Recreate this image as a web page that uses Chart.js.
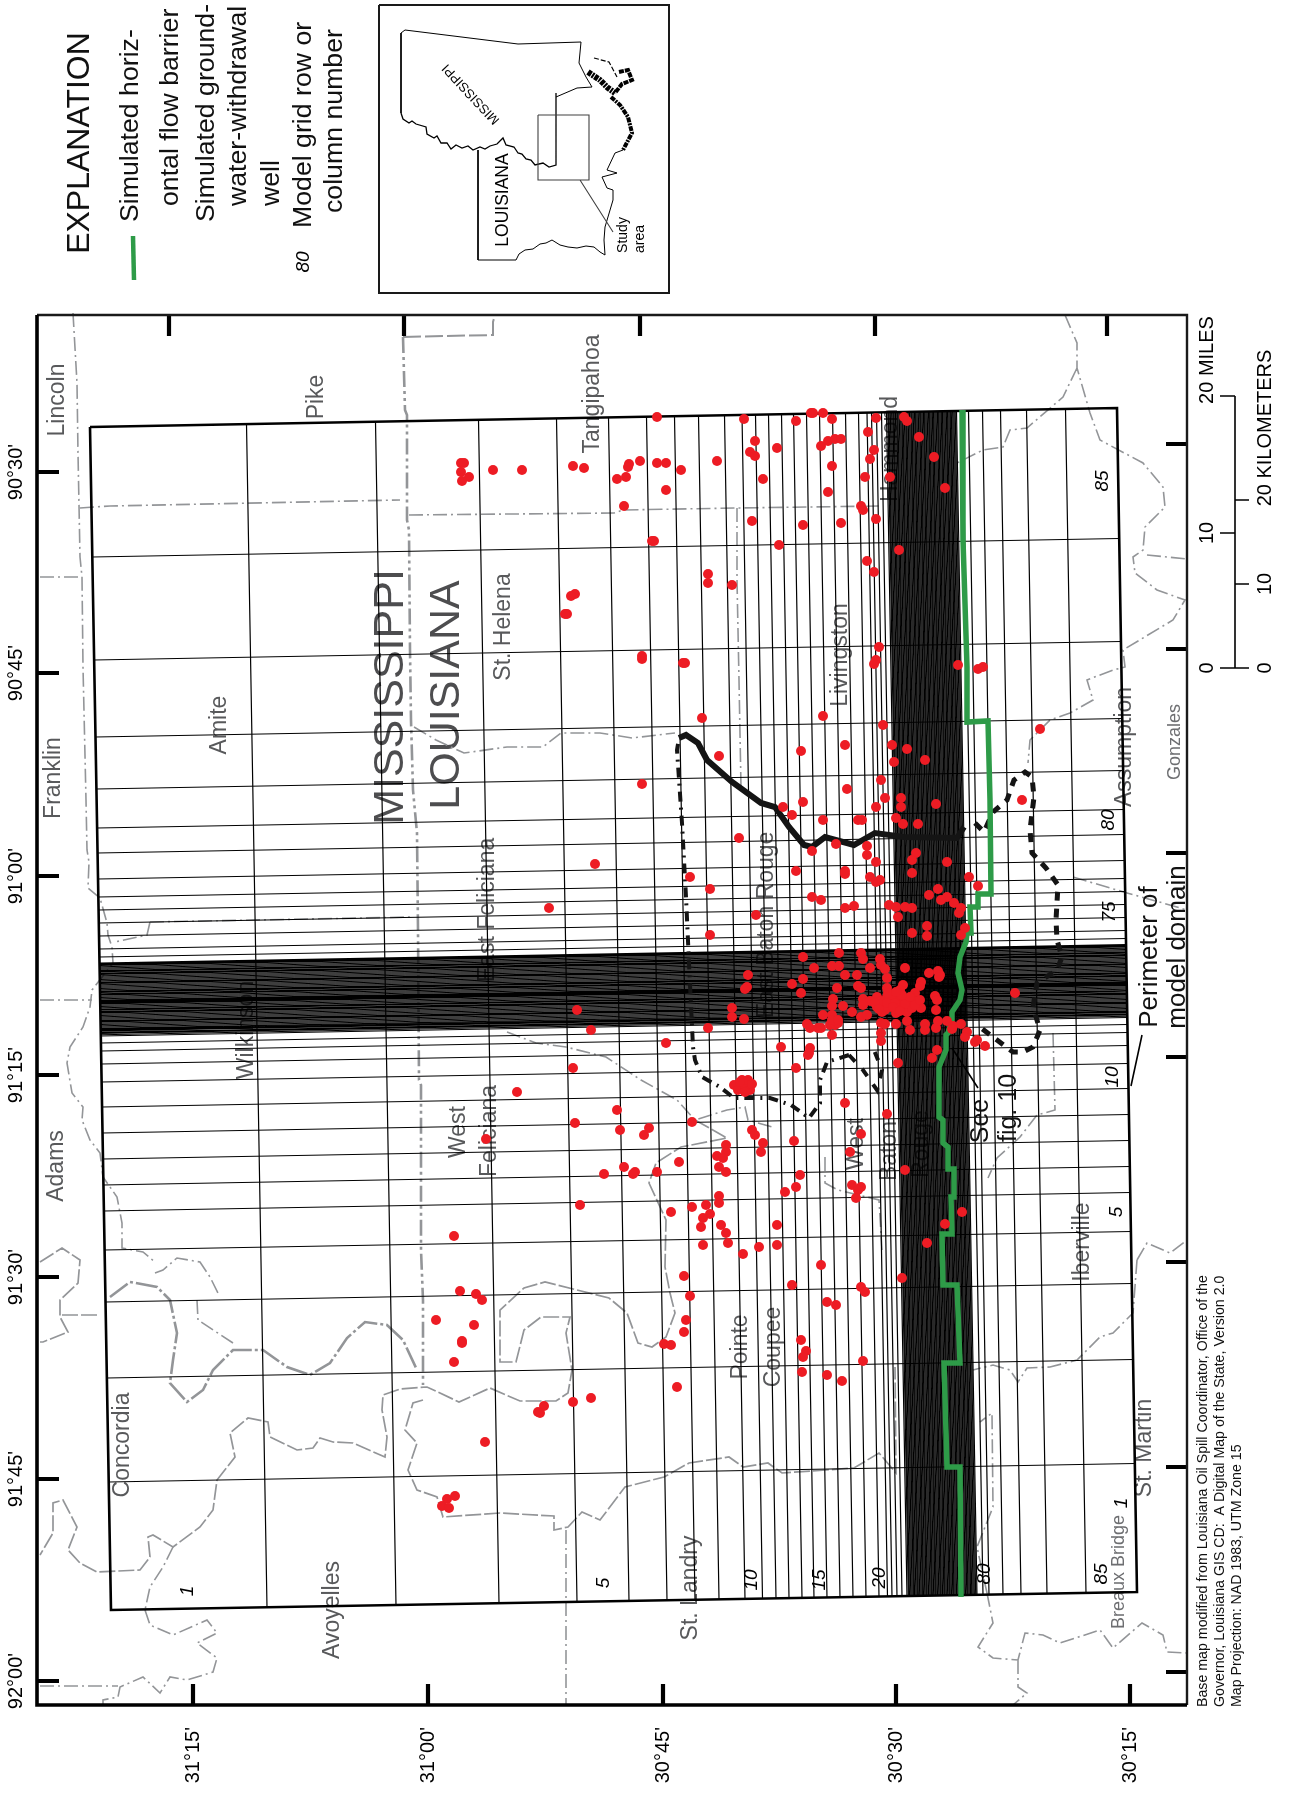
<!DOCTYPE html>
<html><head><meta charset="utf-8">
<style>html,body{margin:0;padding:0;background:#fff}canvas{display:block}</style>
<script src="https://cdn.jsdelivr.net/npm/chart.js@4"></script>
</head><body><canvas id="c" width="1289" height="1802"></canvas>
<script>
// Map units: east / south along the sheet of the rotated map.
const latTickValues=[193,428,663,896,1130];
const latTickLabels=["31°15'","31°00'","30°45'","30°30'","30°15'"];
const lonTickValues=[472,673,876,1075,1277,1479,1681];
const lonTickLabels=["90°30'","90°45'","91°00'","91°15'","91°30'","91°45'","92°00'"];
const topTicks=[169,404,640,875,1107];
const rightTicks=[444,649,853,1057,1262,1467,1672];

// Model grid: row lines read along the south edge, column lines along the west edge
const rowLines=[267,396,499,577,629,667,695,719,745,762.5,776,789,802,814,827,840,853,866,879,887.5,892,897,902,907,983,989,1003,1021,1047,1086];
const rowLinesDense=[908.3,909.5,910.8,912.1,913.4,914.6,915.9,917.2,918.4,919.7,921,922.3,923.5,924.8,926.1,927.3,928.6,929.9,931.2,932.4,933.7,935,936.2,937.5,938.8,940.1,941.3,942.6,943.9,945.1,946.4,947.7,949,950.2,951.5,952.8,954,955.3,956.6,957.9,959.1,960.4,961.7,962.9,964.2,965.5,966.8,968,969.3,970.6,971.8,973.1,974.4,975.7,977];
const colLines=[1482,1378,1302,1250,1211,1185,1159,1133,1107,1082,1064,1051,1043,1036,957,949,936,923,910,897,879,853,828,789,737,660,557];
const colLinesDense=[1034.7,1033.4,1032.2,1030.9,1029.6,1028.3,1027,1025.7,1024.5,1023.2,1021.9,1020.6,1019.3,1018,1016.8,1015.5,1014.2,1012.9,1011.6,1010.3,1009.1,1007.8,1006.5,1005.2,1003.9,1002.6,1001.4,1000.1,998.8,997.5,996.2,994.9,993.7,992.4,991.1,989.8,988.5,987.2,986,984.7,983.4,982.1,980.8,979.5,978.3,977,975.7,974.4,973.1,971.8,970.6,969.3,968,966.7,965.4,964.1,963];
const perimeter=[[90,427],[1117,408],[1137,1592],[111,1610],[90,427]];

const wells=[[461,463],[464,463],[461,472],[469,477],[462,481],[493,470],[522,470],[573,466],[584,468],[617,479],[626,477],[629,464],[628,467],[640,461],[657,463],[666,463],[681,470],[717,461],[666,490],[624,506],[657,417],[744,419],[755,441],[750,452],[755,456],[777,448],[763,479],[796,421],[811,413],[813,413],[823,413],[832,419],[821,446],[828,441],[835,439],[841,439],[832,466],[828,492],[868,432],[876,418],[874,450],[870,459],[865,477],[890,477],[904,417],[907,421],[919,437],[934,457],[945,488],[861,506],[863,510],[876,519],[752,521],[803,525],[841,523],[654,541],[652,541],[779,545],[899,550],[867,561],[874,572],[708,574],[708,583],[732,585],[575,594],[571,596],[567,614],[565,614],[642,659],[642,656],[685,663],[683,663],[879,647],[876,660],[874,664],[958,665],[978,669],[983,667],[702,718],[823,716],[883,725],[801,751],[845,745],[892,745],[907,749],[894,762],[925,760],[719,756],[881,780],[1040,729],
[642,784],[847,789],[803,802],[783,807],[792,815],[885,798],[901,798],[901,807],[876,807],[936,804],[1022,800],[896,818],[903,824],[918,824],[823,820],[858,820],[862,820],[739,838],[836,844],[812,851],[867,846],[867,855],[916,853],[912,860],[947,862],[876,862],[595,864],[796,871],[845,874],[845,871],[912,873],[870,877],[880,880],[876,882],[969,877],[690,877],[710,889],[978,886],[938,889],[929,895],[947,897],[941,900],[954,903],[961,908],[959,913],[812,897],[821,900],[845,908],[854,906],[549,908],[889,905],[896,907],[905,907],[912,908],[898,917],[756,915],[927,926],[927,936],[912,933],[710,935],[965,928],[961,935],
[803,957],[839,953],[861,953],[863,959],[880,959],[881,965],[885,969],[814,968],[832,966],[839,966],[870,968],[905,968],[938,971],[929,973],[940,975],[939,977],[845,975],[857,975],[887,978],[803,979],[792,984],[921,982],[903,985],[920,986],[858,986],[861,988],[837,988],[887,988],[801,993],[935,996],[937,1000],[915,993],[900,990],[877,997],[887,997],[893,1000],[900,1000],[907,1000],[913,1000],[863,999],[870,1001],[863,1005],[833,999],[832,1006],[843,1006],[877,1007],[883,1005],[890,1007],[897,1005],[903,1007],[882,1012],[896,1013],[907,1012],[912,1008],[921,1008],[936,1010],[852,1012],[823,1015],[832,1015],[861,1017],[867,1015],[807,1024],[810,1028],[818,1028],[821,1028],[830,1025],[835,1025],[838,1023],[832,1020],[838,1020],[832,1035],[881,1023],[885,1024],[896,1024],[907,1021],[910,1030],[925,1024],[925,1030],[936,1028],[938,1021],[947,1021],[953,1026],[952,1029],[961,1024],[967,1032],[965,1037],[977,1040],[975,1042],[985,1046],[881,1033],[881,1041],[937,1050],[781,1047],[810,1048],[808,1055],[932,1058],
[880,1001],[885,1010],[892,995],[898,1009],[905,1004],[910,997],[915,1005],[887,1003],[895,1003],[902,995],[875,1003],[920,1000],[893,1007],[900,1011],[879,1009],[888,993],[896,992],
[748,975],[747,987],[745,989],[732,1008],[732,1017],[744,1019],[577,1010],[591,1030],[708,1028],[666,1043],[573,1068],[796,1068],[898,1063],[1015,993],
[517,1092],[617,1110],[575,1123],[620,1130],[649,1128],[644,1135],[486,1139],[692,1122],[845,1103],[809,1053],[734,1085],[738,1090],[742,1080],[745,1087],[748,1080],[750,1090],[752,1084],[745,1092],[740,1082],[887,1114],[752,1130],[755,1135],[763,1143],[794,1141],[861,1134],[726,1145],[726,1152],[717,1156],[723,1158],[761,1152],[850,1152],[679,1162],[719,1167],[726,1172],[657,1172],[624,1167],[635,1172],[633,1174],[604,1174],[800,1175],[905,1170],[852,1185],[861,1187],[858,1190],[796,1187],[785,1192],[856,1198],[719,1196],[719,1203],[706,1205],[692,1207],[580,1205],[671,1212],[710,1214],[703,1218],[962,1212],[945,1224],[721,1225],[701,1227],[777,1225],[726,1233],[454,1236],[728,1243],[703,1245],[759,1247],[777,1245],[743,1254],[927,1243],[821,1265],[684,1276],[792,1285],[902,1278],[861,1287],[865,1292],[460,1291],[476,1294],[482,1300],[690,1296],[827,1302],[836,1305],[436,1320],[474,1325],[686,1320],[684,1332],[462,1341],[462,1343],[801,1340],[806,1351],[803,1357],[454,1362],[664,1344],[671,1345],[863,1361],[802,1372],[827,1375],[842,1381],[677,1387],[591,1398],[573,1402],[544,1406],[538,1412],[540,1413],[485,1442],[455,1496],[447,1499],[442,1506],[449,1508]];

const flowBarrier=[[962,410],[963,540],[967,667],[967,722],[988,721],[990,800],[991,894],[978,894],[978,907],[970,907],[971,933],[967,933],[966,942],[960,957],[958,973],[962,990],[960,1000],[952,1012],[952,1020],[948,1033],[946,1035],[946,1050],[939,1067],[939,1117],[943,1120],[943,1143],[948,1147],[948,1169],[954,1169],[954,1197],[951,1197],[952,1234],[942,1234],[943,1285],[957,1285],[960,1363],[944,1363],[947,1467],[960,1467],[961,1597]];

const outlineSolid=[[679,738],[686,735],[698,743],[707,760],[732,782],[761,803],[775,807],[789,827],[804,845],[812,847],[825,837],[854,845],[875,833],[904,837],[957,838],[964,827]];
const outlineDashed=[[975,823],[984,832],[993,812],[1007,800],[1014,780],[1025,772],[1032,777],[1034,797],[1030,830],[1032,853],[1046,868],[1058,885],[1056,920],[1057,940],[1062,957],[1057,970],[1037,983],[1033,1007],[1040,1030],[1033,1047],[1023,1052],[1013,1052],[993,1037],[977,1025]];
const outlineWest=[[849,1055],[827,1062],[820,1080],[820,1103],[809,1118],[791,1105],[770,1098],[734,1098],[720,1087],[702,1077],[695,1060],[693,1047],[689,963],[686,897],[682,823],[677,750],[679,738]];
const outlineEast=[[849,1055],[863,1070],[877,1090],[882,1070],[874,1050]];

const stateLine=[[403,337],[405,410],[407,415],[407,520],[409,530],[410,650],[411,720],[413,790],[417,833],[418,930],[419,1080],[421,1085],[421,1250],[423,1300],[423,1385]];
const stateLineTop=[[403,337],[493,335],[493,322],[495,315]];
const parishDash=[
[[80,508],[110,506],[400,500]],
[[409,515],[614,513],[623,510],[737,508],[879,506]],
[[737,508],[737,580],[739,680],[741,787]],
[[73,313],[77,383],[78,453],[80,557],[82,577],[83,667],[86,800],[87,850],[89,862],[88,888],[100,898],[107,923],[108,935],[112,947],[113,963],[92,990],[90,1007],[83,1027],[70,1047],[67,1063],[72,1093],[83,1107],[82,1120],[90,1140],[100,1153],[103,1177],[117,1197],[122,1223],[122,1248],[143,1252],[155,1262]],
[[40,577],[82,577]],[[40,1000],[92,1000]],
[[150,922],[413,917]],[[150,922],[147,935],[115,942]],
[[1065,315],[1077,343],[1077,368],[1090,413],[1100,440],[1143,463],[1163,487],[1165,507],[1145,527],[1143,550],[1133,557],[1135,573],[1157,590],[1185,600],[1173,620],[1123,650],[1125,667],[1113,670],[1087,680],[1093,700],[1070,713],[1050,720],[1030,740],[1028,763]],
[[1077,368],[1063,397],[1027,428],[1010,430],[1003,447],[983,450],[957,463]],
[[1147,555],[1187,559]],
[[414,727],[436,740],[464,753],[507,747],[543,747],[561,733],[600,733],[632,738],[675,733]],
[[507,1032],[536,1043],[566,1047],[606,1057],[641,1080],[677,1100],[695,1120],[727,1110],[745,1107],[748,1120],[772,1127]],
[[566,1530],[566,1705]],
[[40,1686],[118,1686]],
[[145,1610],[150,1625],[173,1635],[207,1620],[217,1633],[197,1643],[217,1658],[213,1672],[187,1680],[170,1677],[160,1693],[143,1677],[120,1687],[118,1697],[103,1700],[103,1705]],
[[173,1547],[163,1567],[150,1587],[145,1610]],
[[987,1593],[993,1623],[978,1647],[993,1658],[1018,1660],[1025,1633],[1043,1635],[1060,1643],[1100,1630],[1113,1648],[1142,1623],[1163,1635],[1167,1652],[1187,1653]],
[[1018,1660],[1018,1687],[1027,1693],[1013,1705]],
[[987,1593],[977,1547],[993,1507],[992,1413],[980,1422]],
[[1137,1260],[1133,1313],[1113,1333],[1100,1337],[1077,1360],[1050,1367],[1027,1368],[1018,1382],[1010,1370],[993,1365],[973,1370]],
[[1137,1260],[1147,1243],[1170,1253],[1187,1240]],
[[1053,1033],[1055,1110],[1037,1115],[1020,1137],[997,1158],[988,1178]],
[[1073,877],[1127,893],[1163,903],[1187,910]],
[[825,1157],[825,1183],[838,1190],[879,1200],[882,1250]],
[[155,1273],[163,1270],[177,1258],[200,1262],[210,1277],[218,1293]],
[[197,1300],[198,1320],[233,1343]]
];
const parishSolid=[
[[695,1120],[727,1138],[681,1147],[656,1163],[649,1183],[666,1220],[665,1267],[670,1293],[675,1313],[666,1337],[652,1347],[638,1343],[627,1313],[609,1298],[545,1282],[524,1288],[500,1310],[500,1362],[516,1362],[524,1330],[541,1317],[570,1317],[566,1333],[572,1370],[568,1393],[556,1401],[520,1401],[490,1388],[459,1402],[427,1387],[400,1389],[383,1395],[382,1410],[387,1437],[385,1457],[353,1443],[333,1442],[320,1438],[313,1448],[297,1450],[270,1437],[268,1422],[248,1418],[230,1433],[235,1457],[217,1480],[213,1510],[200,1527],[173,1547],[153,1535],[148,1537],[150,1557],[140,1570],[97,1572],[80,1563],[68,1550],[77,1527],[63,1500],[53,1503],[53,1533],[40,1555]],
[[423,1400],[413,1403],[405,1430],[417,1443],[408,1470],[417,1490],[437,1497],[443,1517],[500,1513],[554,1516],[554,1530],[568,1527],[582,1512],[600,1520],[625,1487],[664,1477],[689,1463],[729,1457],[743,1467],[768,1463],[782,1473],[854,1468],[879,1453],[896,1473],[895,1367]],
[[40,1262],[62,1248],[80,1260],[78,1283],[60,1300],[60,1317],[68,1332],[43,1342],[40,1342]],
[[97,1315],[60,1315]]
];
const riverLine=[[110,1297],[130,1282],[157,1287],[170,1300],[177,1333],[173,1360],[170,1383],[187,1402],[203,1390],[213,1370],[233,1350],[263,1350],[287,1367],[310,1375],[330,1363],[347,1338],[365,1322],[387,1325],[403,1340],[417,1370]];

const latTickRange=[37,1187], lonTickRange=[315,1705];

// Locator inset
const insetBox=[[379,5],[669,5],[669,293],[379,293],[379,5]];
const insetStudy=[[538,115],[589,115],[589,180],[538,180],[538,115]];
const insetLeader=[[580,180],[613,232]];
const insetMS=[[556,97],[577,88],[592,87],[586,77],[579,63],[581,42],[518,44],[405,30],[401,33],[401,113]];
const insetRiver=[[401,113],[403,119],[409,123],[412,121],[416,124],[426,127],[427,134],[434,138],[437,136],[441,143],[447,143],[451,149],[456,145],[462,148],[468,146],[473,150],[480,147],[485,149],[490,146],[497,144],[503,138],[506,145],[514,147],[518,153],[522,154],[526,159],[531,160],[535,165],[543,163],[549,167],[556,165],[556,93]];
const insetLA=[[478,150],[478,260],[516,260],[519,254],[525,250],[533,249],[540,244],[546,243],[552,240],[560,245],[568,247],[577,248],[586,246],[594,247],[600,252],[605,255],[604,240],[605,227],[613,200],[613,190],[607,188],[602,177],[617,173],[607,170],[615,153],[623,150]];
const insetUpperShore=[[594,58],[609,62],[617,77]];
const insetMarsh=[[588,72],[600,80],[608,88],[615,93]];
const insetIslands=[[619,72],[628,70],[632,80],[622,84],[615,93]];
const insetDelta=[[611,97],[620,105],[628,117],[632,133],[623,150]];

const barrierSwatch=[[133,236],[134,280]];
const wellSwatch=[[212,258]];
const seeLeader=[[952,1048],[978,1088]];
const perimLeader=[[1142,1035],[1131,1086]];
const scaleMiles=[[1235,396],[1235,668]];
const scaleMileTicks=[396,533,668];
const scaleKmTicks=[500,584,668];

const countyLabels=[["Lincoln",58,400],["Pike",317,397],["Tangipahoa",593,394],["Franklin",54,778],["Amite",220,725],["St. Helena",504,627],["Livingston",841,655],["Hammond",891,449],["Assumption",1125,747],["East Feliciana",488,910],["Wilkinson",247,1030],["West",459,1132],["Feliciana",490,1131],["Adams",57,1166],["Concordia",123,1445],["Avoyelles",333,1610],["St. Landry",691,1588],["Pointe",741,1347],["Coupee",774,1347],["West",857,1144],["Baton",890,1151],["Rouge",922,1144],["East Baton Rouge",767,925],["Iberville",1083,1242],["St. Martin",1145,1448]];
const smallCountyLabels=[["Gonzales",1175,742],["Breaux Bridge",1119,1572]];
const stateLabels=[["MISSISSIPPI",391,697],["LOUISIANA",447,695]];
const gridNumbers=[["1",188,1591],["5",604,1583],["10",752,1580],["15",820,1580],["20",880,1578],["80",985,1574],["85",1102,1574],["1",1122,1503],["5",1117,1212],["10",1113,1077],["75",1110,912],["80",1109,820],["85",1103,481],["80",304,262]];
const noteLabels=[["See",981,1121],["fig. 10",1009,1108],["Perimeter of",1150,957],["model domain",1178,947]];
const legendTitle=["EXPLANATION",80,143];
const legendText=[["Simulated horiz-",131,222],["ontal flow barrier",171,206],["Simulated ground-",207,222],["water-withdrawal",239,206],["well",272,206],["Model grid row or",304,228],["column number",335,213]];
const creditText=[["Base map modified from Louisiana Oil Spill Coordinator, Office of the",1203,1707],["Governor, Louisiana GIS CD:  A Digital Map of the State, Version 2.0",1220,1707],["Map Projection: NAD 1983, UTM Zone 15",1237,1707]];
const scaleText=[["0",1207,668],["10",1207,533],["20 MILES",1207,360],["0",1265,668],["10",1265,584],["20 KILOMETERS",1265,428]];

const pts=a=>a.map(p=>({x:p[0],y:p[1]}));
const gap={x:NaN,y:NaN};
const multi=ls=>{const o=[];ls.forEach(l=>{pts(l).forEach(p=>o.push(p));o.push(gap)});return o};
const rowSeg=x=>{const xt=x-20.5;return [[xt,427-(xt-90)*19/1027],[x,1610-(x-111)*18/1026]]};
const colSeg=y=>{const yr=y-18.5;return [[90+(y-427)*21/1183,y],[1117+(yr-408)*20/1184,yr]]};
const line=(label,data,color,width,order,extra)=>Object.assign({label,data,borderColor:color,backgroundColor:color,borderWidth:width,order,showLine:true,pointRadius:0,pointHoverRadius:0,clip:false,spanGaps:false,tension:0,borderCapStyle:'butt',borderJoinStyle:'miter'},extra||{});
const tickSegs=[
 ...topTicks.map(x=>[[x,315],[x,336]]),
 ...latTickValues.map(x=>[[x,1705],[x,1684]]),
 ...lonTickValues.map(y=>[[37,y],[59,y]]),
 ...rightTicks.map(y=>[[1187,y],[1166,y]])];
const scaleSegs=[scaleMiles,...scaleMileTicks.map(y=>[[1220,y],[1235,y]]),...scaleKmTicks.map(y=>[[1235,y],[1249,y]])];

const GREY='#939598',TXT='#58595b',RED='#ed1c24',GREEN='#2e9b48';
const datasets=[
 line('River',pts(riverLine),GREY,2.6,90,{borderDash:[22,3,3,3]}),
 line('State line',pts(stateLine),GREY,2.6,90,{borderDash:[16,4,3,4,3,4]}),
 line('State line top',pts(stateLineTop),GREY,2,90,{borderDash:[18,4]}),
 line('Parish lines',multi(parishDash),GREY,1.6,90,{borderDash:[14,4,2,4]}),
 line('Water lines',multi(parishSolid),GREY,1.7,90,{borderDash:[16,3]}),
 line('Model grid rows',multi(rowLines.map(rowSeg)),'#000',1.2,50),
 line('Model grid columns',multi(colLines.map(colSeg)),'#000',1.2,50),
 line('Model grid rows dense',multi(rowLinesDense.map(rowSeg)),'#000',1.15,50),
 line('Model grid columns dense',multi(colLinesDense.map(colSeg)),'#000',1.15,50),
 line('Perimeter',pts(perimeter),'#000',2.6,40),
 line('Baton Rouge aquifer edge',pts(outlineSolid),'#141414',6,30),
 line('Edge dashed',pts(outlineDashed),'#141414',5,30,{borderDash:[9,8]}),
 line('Edge west',pts(outlineWest),'#141414',4,30,{borderDash:[10,6,2,6]}),
 line('Edge east',pts(outlineEast),'#141414',4,30,{borderDash:[9,10]}),
 line('Simulated horizontal flow barrier',pts(flowBarrier),GREEN,5.5,20),
 {label:'Simulated ground-water-withdrawal well',data:pts(wells),backgroundColor:RED,borderColor:RED,borderWidth:0,pointRadius:5,pointHoverRadius:5,showLine:false,order:10,clip:false},
 line('Frame west south',pts([[latTickRange[0],lonTickRange[0]],[latTickRange[0],lonTickRange[1]],[latTickRange[1],lonTickRange[1]]]),'#000',3.6,5),
 line('Frame north east',pts([[latTickRange[0],lonTickRange[0]],[latTickRange[1],lonTickRange[0]],[latTickRange[1],lonTickRange[1]]]),'#1a1a1a',2.4,5),
 line('Frame ticks',multi(tickSegs),'#000',4.2,5),
 line('Leaders',multi([seeLeader,perimLeader]),'#000',1.6,5),
 line('Scale bar',multi(scaleSegs),'#000',1.6,5),
 line('Legend barrier',pts(barrierSwatch),GREEN,4.5,5),
 {label:'Legend well',data:pts(wellSwatch),backgroundColor:RED,borderWidth:0,pointRadius:5.2,showLine:false,order:5,clip:false},
 line('Inset frame',pts(insetBox),'#1a1a1a',2,6),
 line('Inset study area',multi([insetStudy,insetLeader]),'#404040',1.1,6),
 line('Inset Mississippi',multi([insetMS]),'#000',1,6),
 line('Inset river',pts(insetRiver),'#000',1.3,6),
 line('Inset Louisiana',pts(insetLA),'#000',1,6),
 line('Inset upper shore',pts(insetUpperShore),'#000',1.2,6,{borderDash:[5,2]}),
 line('Inset marsh',pts(insetMarsh),'#000',6,6,{borderDash:[4,1,2,1]}),
 line('Inset islands',pts(insetIslands),'#000',4,6,{borderDash:[5,1]}),
 line('Inset delta',pts(insetDelta),'#000',4,6,{borderDash:[5,1,2,1]})
];

function vtext(ctx,chart,list,font,color,align){
  const sx=chart.scales.x,sy=chart.scales.y;
  ctx.save();ctx.font=font;ctx.fillStyle=color;ctx.textAlign=align||'center';ctx.textBaseline='middle';
  list.forEach(t=>{ctx.save();ctx.translate(sx.getPixelForValue(t[1]),sy.getPixelForValue(t[2]));ctx.rotate(-Math.PI/2);ctx.fillText(t[0],0,0);ctx.restore();});
  ctx.restore();
}
const SANS='"Liberation Sans",Arial,sans-serif';
const textPlugin={id:'mapText',
 beforeDatasetsDraw(chart){
  const c=chart.ctx;
  vtext(c,chart,countyLabels,'23px '+SANS,TXT);
  vtext(c,chart,smallCountyLabels,'18px '+SANS,'#6d6e71');
  vtext(c,chart,stateLabels,'43px '+SANS,'#4d4d4f');
 },
 afterDatasetsDraw(chart){
  const c=chart.ctx;
  vtext(c,chart,gridNumbers,'italic 19px '+SANS,'#000');
  vtext(c,chart,noteLabels.slice(0,2),'25px '+SANS,'#111');
  vtext(c,chart,noteLabels.slice(2),'26px '+SANS,'#111');
  vtext(c,chart,[legendTitle],'32px '+SANS,'#111');
  vtext(c,chart,legendText,'26.7px '+SANS,'#111','left');
  vtext(c,chart,creditText,'14.2px '+SANS,'#111','left');
  vtext(c,chart,scaleText,'20px '+SANS,'#000');
  vtext(c,chart,[["LOUISIANA",503,200]],'17.5px '+SANS,'#000');
  vtext(c,chart,[["Study",623,235],["area",640,239]],'14px '+SANS,'#000');
  const sx=chart.scales.x,sy=chart.scales.y;
  c.save();c.font='13px '+SANS;c.fillStyle='#000';c.textAlign='center';c.textBaseline='middle';
  c.translate(sx.getPixelForValue(471),sy.getPixelForValue(94));c.rotate(-133*Math.PI/180);c.fillText('MISSISSIPPI',0,0);c.restore();
 }};

new Chart(document.getElementById('c'),{type:'scatter',data:{datasets},plugins:[textPlugin],options:{
 responsive:false,animation:false,events:[],
 layout:{padding:{top:315,right:102,left:0,bottom:0}},
 plugins:{legend:{display:false},tooltip:{enabled:false},title:{display:false}},
 scales:{
  x:{type:'linear',position:'bottom',min:latTickRange[0],max:latTickRange[1],grid:{display:false,drawTicks:false},border:{display:false},
     afterBuildTicks(s){s.ticks=latTickValues.map(v=>({value:v}))},
     afterFit(s){s.height=97},
     ticks:{autoSkip:false,minRotation:90,maxRotation:90,padding:22,color:'#000',font:{family:'Liberation Sans',size:20},callback:(v,i)=>latTickLabels[i]}},
  y:{type:'linear',position:'left',reverse:true,min:lonTickRange[0],max:lonTickRange[1],grid:{display:false,drawTicks:false},border:{display:false},
     afterBuildTicks(s){s.ticks=lonTickValues.map(v=>({value:v}))},
     afterFit(s){s.width=37},
     ticks:{autoSkip:false,minRotation:90,maxRotation:90,crossAlign:'center',padding:-8,color:'#000',font:{family:'Liberation Sans',size:20},callback:(v,i)=>lonTickLabels[i]}}
 }}});
</script></body></html>
